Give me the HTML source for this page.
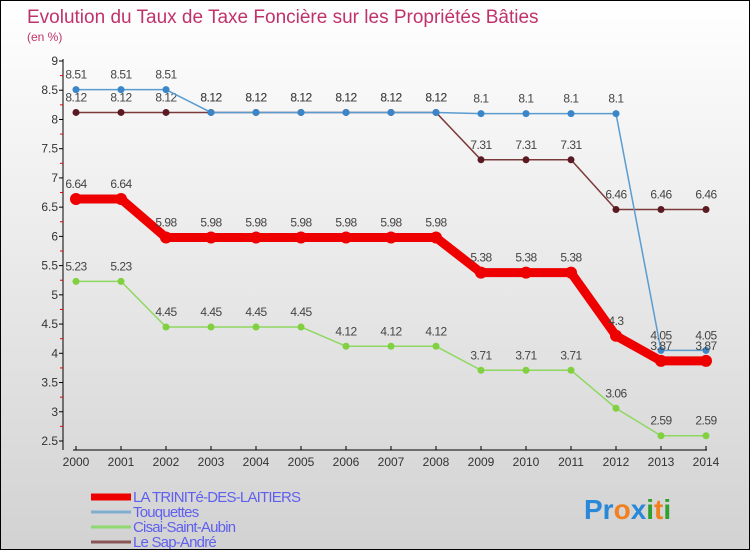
<!DOCTYPE html>
<html><head><meta charset="utf-8"><style>
body{margin:0}
#c{width:750px;height:550px;position:relative;background:linear-gradient(#ffffff,#d2d2d2);border:1px solid #000;box-sizing:border-box;overflow:hidden;font-family:"Liberation Sans",sans-serif}
</style></head><body>
<div id="c">
<svg id="s" width="750" height="550" style="position:absolute;left:0;top:0"></svg>
</div>
<script>
const years=["2000","2001","2002","2003","2004","2005","2006","2007","2008","2009","2010","2011","2012","2013","2014"];
const trinite=[6.64,6.64,5.98,5.98,5.98,5.98,5.98,5.98,5.98,5.38,5.38,5.38,4.3,3.87,3.87];
const touquettes=[8.51,8.51,8.51,8.12,8.12,8.12,8.12,8.12,8.12,8.1,8.1,8.1,8.1,4.05,4.05];
const cisai=[5.23,5.23,4.45,4.45,4.45,4.45,4.12,4.12,4.12,3.71,3.71,3.71,3.06,2.59,2.59];
const sap=[8.12,8.12,8.12,8.12,8.12,8.12,8.12,8.12,8.12,7.31,7.31,7.31,6.46,6.46,6.46];
const yTicks=[2.5,3,3.5,4,4.5,5,5.5,6,6.5,7,7.5,8,8.5,9];
const NS="http://www.w3.org/2000/svg",s=document.getElementById('s');
const X=i=>75+i*45, Y=v=>60+(9-v)*58.46;
function mk(t,a,p){const e=document.createElementNS(NS,t);for(const k in a)e.setAttribute(k,a[k]);(p||s).appendChild(e);return e;}
let t=mk('text',{x:26,y:22,'font-size':19,fill:'#c0336a'});t.textContent="Evolution du Taux de Taxe Foncière sur les Propriétés Bâties";

t=mk('text',{x:26,y:40,'font-size':12,fill:'#c0336a'});t.textContent="(en %)";

let ax=mk('line',{x1:62,y1:58,x2:62,y2:449,stroke:'#000'});

ax=mk('line',{x1:72,y1:449,x2:706,y2:449,stroke:'#000'});

yTicks.forEach(v=>{mk('line',{x1:58,x2:62,y1:Y(v),y2:Y(v),stroke:'#000'});
 if(v<9)mk('line',{x1:59,x2:62,y1:Y(v+0.25),y2:Y(v+0.25),stroke:'#e00'});
 const l=mk('text',{x:57,y:Y(v)+4,'font-size':12,fill:'#333','text-anchor':'end'});l.textContent=v;
 });
years.forEach((y,i)=>{mk('line',{x1:X(i),x2:X(i),y1:445,y2:449,stroke:'#000'});
 const l=mk('text',{x:X(i),y:465,'font-size':12,fill:'#333','text-anchor':'middle'});l.textContent=y;
 });
function series(d,col,w,r,name,dot){
 const g=mk('g',{});
 mk('polyline',{points:d.map((v,i)=>X(i)+','+Y(v)).join(' '),fill:'none',stroke:col,'stroke-width':w,'stroke-linejoin':'round'},g);
 d.forEach((v,i)=>{const c=mk('circle',{cx:X(i),cy:Y(v),r:r,fill:dot},g);
  
  const l=mk('text',{x:X(i),y:Y(v)-11,'font-size':12,fill:'#444','text-anchor':'middle','letter-spacing':'-0.5'},g);l.textContent=v;
  });
}
series(sap,'#7b3a3a',1.5,3.5,'le-sap-andre','#5a1a22');
series(touquettes,'#5a9cd0',1.5,3.5,'touquettes','#3a86c8');
series(cisai,'#8fd860',1.5,3.5,'cisai-saint-aubin','#80d040');
series(trinite,'#ee0000',9,6,'la-trinite-des-laitiers','#ee0000');
const leg=[["LA TRINITé-DES-LAITIERS","#ee0000",7],["Touquettes","#80aed0",3],["Cisai-Saint-Aubin","#90d870",3],["Le Sap-André","#8a5555",3]];
leg.forEach((e,i)=>{const g=mk('g',{});
 const y=493+i*15;mk('line',{x1:90,x2:130,y1:y+3,y2:y+3,stroke:e[1],'stroke-width':e[2]},g);
 const l=mk('text',{x:132,y:y+8,'font-size':15,fill:'#6060ee','letter-spacing':'-0.8'},g);l.textContent=e[0];});
const lg=mk('text',{x:583,y:518,'font-size':28,'font-weight':'bold'});
[["Pr","#2a88d8"],["o","#f08020"],["x","#2a88d8"],["i","#30a030"],["t","#f08020"],["i","#30a030"]].forEach(p=>{const ts=mk('tspan',{fill:p[1]},lg);ts.textContent=p[0];});
</script>
</body></html>
